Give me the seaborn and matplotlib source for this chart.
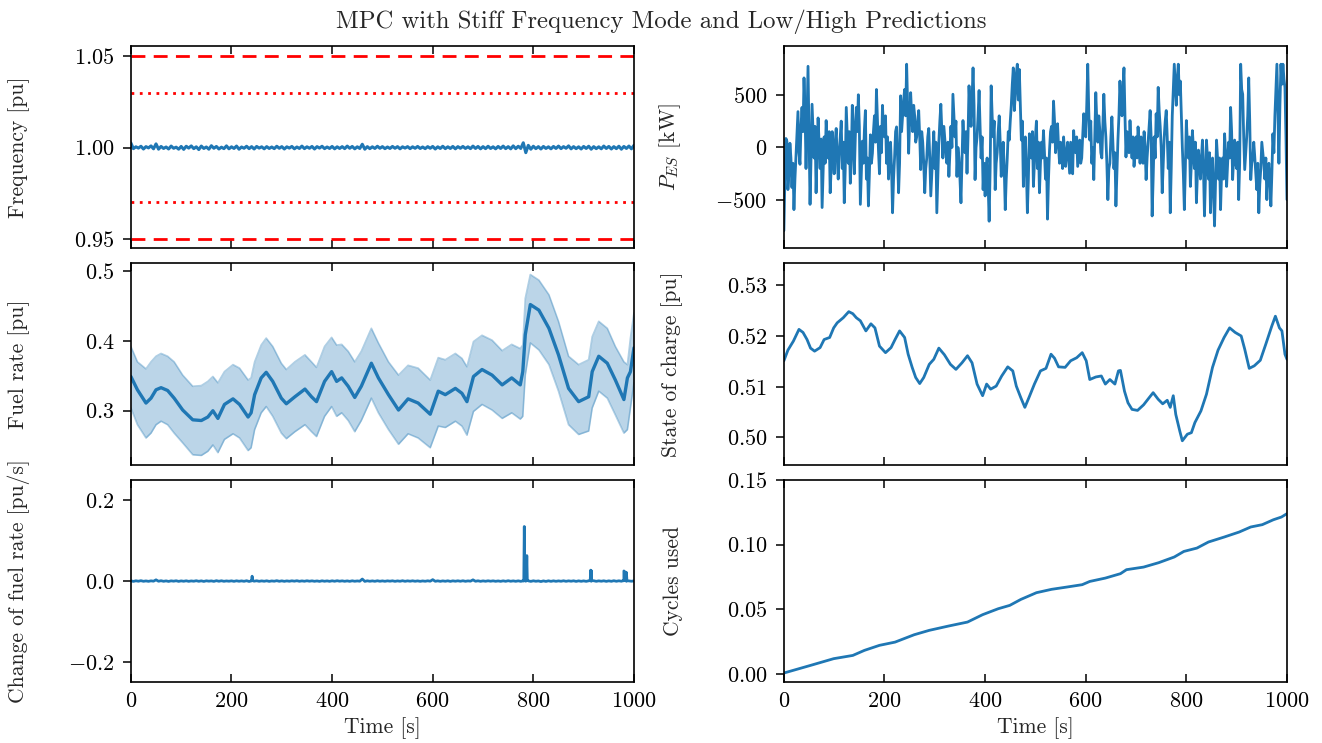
import numpy as np
import pandas as pd
import matplotlib
matplotlib.use("Agg")
import matplotlib.pyplot as plt
from matplotlib.ticker import FuncFormatter
import seaborn as sns

# ---------------------------------------------------------------- data
T_END = 1000

# Grid frequency deviation from nominal, sampled every 5 s, in units of 1e-3 pu
freq_dev = [
    2.5, -0.6, 0.4, -0.3, 0.7, -0.8, 0.5, -0.2, 0.9, -0.7,
    2.0, -0.9, 0.6, -0.5, 0.3, -0.8, 0.8, -0.4, 0.2, -0.9,
    0.6, -1.0, 0.7, -0.3, 0.9, -0.6, 0.4, -1.1, 0.8, -0.5,
    0.3, -0.9, 1.0, -0.4, 0.6, -0.8, 0.2, -0.6, 0.9, -0.7,
    0.4, -0.5, 0.8, -0.9, 0.3, -0.4, 0.7, -0.6, 0.5, -0.8,
    0.6, -0.3, 0.4, -0.7, 0.5, -0.5, 0.3, -0.6, 0.7, -0.4,
    0.5, -0.8, 0.4, -0.3, 0.6, -0.7, 0.3, -0.5, 0.8, -0.6,
    0.4, -0.4, 0.6, -0.8, 0.5, -0.3, 0.7, -0.6, 0.3, -0.5,
    0.6, -0.7, 0.4, -0.5, 0.5, -0.6, 0.8, -0.4, 0.6, -0.7,
    0.4, -0.5, 1.8, -0.9, 0.5, -0.6, 0.4, -0.5, 0.7, -0.4,
    0.5, -0.6, 0.3, -0.5, 0.6, -0.4, 0.5, -0.7, 0.4, -0.3,
    0.5, -0.6, 0.4, -0.4, 0.6, -0.5, 0.3, -0.6, 0.5, -0.4,
    0.6, -0.8, 0.4, -0.5, 0.7, -0.6, 0.4, -0.5, 0.6, -0.7,
    0.5, -0.4, 0.6, -0.5, 0.4, -0.6, 0.8, -0.5, 0.6, -0.7,
    0.5, -0.6, 0.7, -0.5, 0.4, -0.7, 0.6, -0.5, 0.8, -0.6,
    0.5, -0.7, 0.9, -0.6, 0.7, -0.5, 2.6, -2.8, 1.2, -0.9,
    0.7, -0.6, 0.5, -0.8, 0.6, -0.5, 0.4, -0.7, 0.6, -0.5,
    0.8, -0.6, 0.5, -0.4, 0.9, -0.7, 0.5, -0.6, 0.4, -0.8,
    0.6, -0.5, 0.7, -0.9, 0.5, -0.6, 0.4, -0.7, 0.8, -0.5,
    0.6, -0.8, 0.5, -0.6, 0.7, -0.9, 0.6, -0.5, 0.8, -0.7,
    1.2,
]
freq_step = 5
f_limit = [0.95, 1.05]
f_warn = [0.97, 1.03]

# Fuel rate with low / high predictions [pu]
fuel_t = [0, 13, 30, 40, 50, 60, 73, 86, 103, 123, 140, 153, 163, 173, 186,
          203, 216, 233, 239, 246, 259, 269, 282, 299, 309, 326, 346, 359,
          369, 385, 399, 409, 419, 432, 445, 458, 478, 492, 512, 532, 551,
          571, 595, 611, 625, 645, 658, 668, 681, 698, 718, 738, 757, 774,
          779, 784, 794, 811, 831, 850, 870, 890, 910, 917, 930, 947, 963,
          980, 987, 993, 1000]
fuel_mid = [0.349, 0.330, 0.311, 0.318, 0.330, 0.333, 0.329, 0.318, 0.301,
            0.287, 0.286, 0.291, 0.300, 0.289, 0.309, 0.317, 0.309, 0.291,
            0.297, 0.323, 0.347, 0.355, 0.342, 0.318, 0.310, 0.320, 0.331,
            0.320, 0.313, 0.342, 0.356, 0.342, 0.347, 0.335, 0.319, 0.335,
            0.368, 0.347, 0.323, 0.301, 0.317, 0.311, 0.295, 0.328, 0.323,
            0.332, 0.325, 0.313, 0.349, 0.359, 0.351, 0.337, 0.347, 0.337,
            0.356, 0.409, 0.452, 0.444, 0.418, 0.380, 0.332, 0.313, 0.320,
            0.356, 0.378, 0.368, 0.344, 0.316, 0.347, 0.356, 0.390]
fuel_high = [0.392, 0.370, 0.360, 0.370, 0.378, 0.382, 0.378, 0.370, 0.351,
             0.335, 0.336, 0.342, 0.349, 0.340, 0.356, 0.366, 0.361, 0.344,
             0.347, 0.370, 0.394, 0.404, 0.392, 0.368, 0.359, 0.370, 0.380,
             0.370, 0.362, 0.392, 0.405, 0.394, 0.395, 0.385, 0.370, 0.385,
             0.418, 0.397, 0.370, 0.351, 0.365, 0.361, 0.344, 0.376, 0.373,
             0.382, 0.375, 0.363, 0.399, 0.408, 0.401, 0.386, 0.395, 0.389,
             0.394, 0.461, 0.495, 0.487, 0.466, 0.428, 0.378, 0.366, 0.373,
             0.406, 0.428, 0.418, 0.392, 0.370, 0.366, 0.404, 0.440]
fuel_low = [0.304, 0.280, 0.261, 0.268, 0.280, 0.285, 0.280, 0.268, 0.254,
            0.237, 0.236, 0.242, 0.251, 0.240, 0.259, 0.267, 0.261, 0.243,
            0.247, 0.273, 0.297, 0.306, 0.292, 0.268, 0.260, 0.270, 0.280,
            0.270, 0.263, 0.292, 0.306, 0.292, 0.297, 0.286, 0.270, 0.286,
            0.318, 0.297, 0.273, 0.252, 0.267, 0.261, 0.247, 0.278, 0.276,
            0.285, 0.278, 0.265, 0.299, 0.309, 0.301, 0.289, 0.297, 0.288,
            0.292, 0.351, 0.397, 0.387, 0.366, 0.328, 0.280, 0.266, 0.271,
            0.304, 0.328, 0.318, 0.294, 0.268, 0.273, 0.304, 0.340]

# Change of fuel rate [pu/s]: 5 s background samples (units of 1e-3) plus short events
dfuel_dev = [
    0.5, -0.8, 0.6, -0.4, 0.9, -0.6, 0.3, -0.7, 0.5, -0.3,
    3.0, -0.5, 0.8, -0.6, 0.4, -0.9, 0.5, -0.3, 0.7, -0.8,
    0.4, -0.5, 0.6, -0.7, 0.3, -0.4, 0.8, -0.6, 0.5, -0.9,
    0.6, -0.3, 0.4, -0.8, 0.9, -0.5, 0.7, -0.6, 0.3, -0.4,
    0.5, -0.7, 0.6, -0.5, 0.4, -0.6, 0.8, -1.0, 0.5, -0.3,
    0.7, -0.6, 0.4, -0.5, 0.6, -0.8, 0.3, -0.4, 0.9, -0.6,
    0.5, -0.7, 0.4, -0.5, 0.6, -0.3, 0.8, -0.6, 0.4, -0.5,
    0.7, -0.4, 0.5, -0.6, 0.3, -0.8, 0.6, -0.5, 0.4, -0.7,
    0.6, -0.5, 0.8, -0.4, 0.5, -0.6, 0.4, -0.7, 0.6, -0.5,
    0.3, -0.4, 5.0, -0.8, 0.6, -0.5, 0.4, -0.6, 0.7, -0.5,
    0.4, -0.6, 0.5, -0.3, 0.6, -0.7, 0.4, -0.5, 0.8, -0.6,
    0.5, -0.4, 0.6, -0.5, 0.4, -0.7, 0.3, -0.5, 0.6, -0.4,
    3.5, -0.6, 0.5, -0.7, 0.4, -0.5, 0.6, -0.8, 0.5, -0.4,
    0.6, -0.5, 0.7, -0.6, 0.4, -0.3, 3.0, -0.5, 0.6, -0.7,
    0.4, -0.5, 0.6, -0.4, 0.5, -0.6, 0.3, -0.7, 0.5, -0.6,
    0.8, -0.5, 0.4, -0.6, 0.5, -0.7, 0.6, -0.4, 0.5, -0.8,
    0.6, -0.5, 0.3, -1.2, 0.4, -0.9, 0.6, -0.7, 0.5, -0.6,
    0.4, -0.5, 0.7, -0.6, 0.5, -0.4, 0.6, -0.8, 0.5, -0.6,
    0.4, -0.7, 0.6, -0.5, 0.8, -0.6, 0.5, -0.4, 0.6, -0.7,
    0.5, -0.6, 0.8, -0.5, 0.6, -0.4, 0.7, -0.6, 0.5, -0.4,
    0.3,
]
dfuel_step = 5
event_t = [240, 241, 242, 781, 782, 783, 786, 787, 788,
           913, 914, 915, 916, 979, 980, 981, 983, 984, 985, 986]
event_val = [0.001, 0.012, 0.001, 0.000, 0.135, 0.004, 0.005, 0.063, 0.002,
             0.001, 0.027, 0.026, 0.001, 0.001, 0.025, 0.024, 0.002, 0.022, 0.021, 0.001]

# Energy storage power, sampled every 2 s [kW]
p_es = [
    -790, -300, 85, 60, -400, -250, 40, -100, -380, -150,
    -590, -300, -90, 100, 340, -50, -160, 200, 380, 150,
    660, 350, -200, 300, 770, 100, -540, -100, 410, 150,
    -100, 200, -430, -50, 280, 50, -200, 80, -570, -250,
    100, -150, 255, 50, -100, 150, -430, -200, 150, -50,
    -250, 50, 180, -100, -300, -50, 100, 250, -200, 50,
    -525, -200, 380, 100, -150, 150, -340, -100, 400, 200,
    -250, 100, 380, 150, 500, 200, -540, -250, 60, -150,
    160, 350, -300, -100, -555, -250, 120, -150, -55, 150,
    300, 50, 550, 250, -25, -250, 200, -50, 400, 150,
    100, 300, -150, 100, -300, -100, 50, -200, -620, -300,
    -100, 150, 195, -100, -430, -150, 490, 150, 300, 450,
    550, 300, 790, 400, -55, 250, 520, 300, 150, 400,
    300, 50, 100, 250, 350, 100, -210, 150, 50, -150,
    -430, -200, -100, 100, 180, -100, -460, -250, -25, 150,
    -200, 50, -620, -300, 50, 250, 410, 150, -100, 200,
    70, -50, -150, 50, -275, -50, 200, 0, 505, 300,
    100, 250, -275, 0, -100, -300, -525, -150, 255, 50,
    -50, 150, -245, 100, 585, 350, 200, 450, 755, 400,
    -305, 0, 100, 300, 540, 200, -100, 100, -400, -150,
    -460, -200, -100, -350, -700, -200, 585, 300, 100, 250,
    -400, -150, -50, 150, 300, 50, -275, -100, 50, -200,
    -590, -300, -100, 150, 70, 250, 400, 600, 755, 350,
    500, 700, 790, 450, 740, 400, 70, 250, -370, -100,
    100, -200, -620, -300, 130, -50, -100, 150, -370, -150,
    100, 250, -200, 50, -430, -150, 50, -100, 160, -50,
    -300, -100, -680, -300, -25, 150, 200, 50, 440, 250,
    -50, 100, 225, 0, -150, 50, -25, -200, 100, -50,
    -180, -50, 50, -100, -245, 50, -100, -250, 160, 0,
    -50, 100, -180, -50, 70, -150, -100, 100, 320, 150,
    100, 400, 790, 350, 70, 250, -150, 0, -305, 100,
    520, 250, 50, 300, 160, -50, -100, 200, 505, 250,
    100, -150, -495, -200, -150, 100, 290, 50, -200, -50,
    -555, -250, 70, 300, 630, 400, 300, 550, 755, 300,
    -90, 150, 100, -50, 255, 50, -100, 100, -180, -50,
    100, -100, 195, 50, -150, 100, -55, -150, 150, 0,
    -305, -100, 50, 200, 350, 100, -650, -300, 100, -100,
    320, 100, 570, 350, 200, 0, -430, -150, 100, 250,
    350, 100, -200, 50, -620, -200, 300, 550, 790, 600,
    400, 650, 790, 500, 630, 300, 5, -250, -590, -200,
    255, 50, -100, 100, -370, -150, 160, 0, -200, 50,
    -525, -250, -25, -150, -300, -100, 70, -200, -650, -300,
    70, -100, -300, -50, -620, -300, -100, -400, -745, -350,
    70, -100, -300, -100, -590, -250, -100, -300, 130, -50,
    -370, -150, 50, -100, 380, 150, -305, -100, 70, -150,
    -200, 50, -495, -150, 790, 550, 505, 100, -210, -50,
    100, 300, 660, 250, -305, -150, -100, 50, -90, -250,
    -400, -150, -620, -350, -200, 50, -55, -150, -300, -100,
    -495, -250, -150, -300, -555, -250, 130, -50, 300, 550,
    790, 350, -150, 400, 790, 600, 790, 650, 570, 100,
    -495,
]
p_step = 2

# State of charge [pu]
soc_t = [0, 8, 19, 30, 38, 46, 53, 61, 72, 80, 91, 99, 106, 118, 129, 137,
         144, 152, 163, 173, 181, 190, 202, 213, 221, 230, 240, 247, 255,
         262, 270, 278, 289, 298, 308, 319, 331, 342, 354, 365, 374, 384,
         395, 403, 411, 422, 433, 445, 455, 462, 471, 479, 487, 498, 510,
         521, 531, 538, 546, 559, 570, 582, 593, 601, 608, 620, 631, 639,
         648, 658, 665, 669, 677, 684, 692, 703, 715, 726, 734, 744, 753,
         762, 768, 774, 779, 787, 792, 802, 810, 817, 829, 840, 852, 863,
         875, 886, 897, 909, 916, 925, 935, 947, 958, 970, 977, 985, 990,
         996, 1000]
soc = [0.5151, 0.5172, 0.5190, 0.5213, 0.5207, 0.5193, 0.5176, 0.5170,
       0.5177, 0.5193, 0.5197, 0.5216, 0.5226, 0.5236, 0.5248, 0.5244,
       0.5236, 0.5230, 0.5210, 0.5224, 0.5216, 0.5180, 0.5167, 0.5177,
       0.5193, 0.5210, 0.5197, 0.5164, 0.5138, 0.5118, 0.5106, 0.5118,
       0.5144, 0.5154, 0.5176, 0.5163, 0.5144, 0.5134, 0.5147, 0.5161,
       0.5147, 0.5105, 0.5082, 0.5105, 0.5095, 0.5101, 0.5121, 0.5139,
       0.5131, 0.5101, 0.5078, 0.5059, 0.5078, 0.5105, 0.5131, 0.5136,
       0.5164, 0.5156, 0.5139, 0.5138, 0.5151, 0.5157, 0.5167, 0.5151,
       0.5114, 0.5119, 0.5121, 0.5105, 0.5114, 0.5105, 0.5131, 0.5132,
       0.5091, 0.5068, 0.5055, 0.5053, 0.5064, 0.5078, 0.5088, 0.5075,
       0.5066, 0.5073, 0.5059, 0.5082, 0.5045, 0.5012, 0.4993, 0.5006,
       0.5009, 0.5029, 0.5052, 0.5085, 0.5138, 0.5172, 0.5197, 0.5216,
       0.5207, 0.5200, 0.5174, 0.5136, 0.5141, 0.5152, 0.5184, 0.5220,
       0.5239, 0.5216, 0.5210, 0.5164, 0.5154]

# Cumulative battery cycles used
cyc_t = [0, 53, 99, 137, 160, 190, 221, 259, 289, 327, 365, 395, 426, 449,
         471, 502, 532, 563, 593, 608, 639, 669, 681, 715, 745, 776, 795,
         821, 844, 875, 905, 928, 951, 973, 989, 1000]
cycles = [0.0008, 0.0067, 0.0119, 0.0144, 0.0183, 0.0222, 0.0247, 0.0304,
          0.0338, 0.0371, 0.0402, 0.0459, 0.0505, 0.0531, 0.0577, 0.0629,
          0.0655, 0.0673, 0.0691, 0.0716, 0.0742, 0.0776, 0.0807, 0.0827,
          0.0861, 0.0905, 0.0948, 0.0974, 0.1021, 0.1059, 0.1098, 0.1137,
          0.1155, 0.1193, 0.1214, 0.1240]

# ---------------------------------------------------------------- style
sns.set_style("ticks")
plt.rcParams.update({
    "font.family": ["cmr10", "DejaVu Serif"],
    "mathtext.fontset": "cm",
    "axes.formatter.use_mathtext": True,
    "axes.unicode_minus": True,
    "font.size": 15,
    "axes.labelsize": 15.5,
    "xtick.labelsize": 16,
    "ytick.labelsize": 16,
    "axes.linewidth": 1.2,
    "axes.edgecolor": "black",
    "xtick.direction": "in",
    "xtick.top": True,
    "xtick.bottom": True,
    "ytick.direction": "out",
    "ytick.right": False,
    "xtick.major.size": 6,
    "ytick.major.size": 6,
    "xtick.major.width": 1.1,
    "ytick.major.width": 1.1,
    "xtick.major.pad": 7,
    "ytick.major.pad": 6,
    "xtick.color": "black",
    "ytick.color": "black",
})

BLUE = "#1f77b4"
LW = 2.0


def fmt(decimals):
    return FuncFormatter(lambda v, _: f"${v:.{decimals}f}$")


fig, axes = plt.subplots(3, 2, figsize=(13.22, 7.43), dpi=100, sharex=True)
fig.subplots_adjust(left=0.099, right=0.9735, top=0.938, bottom=0.082,
                    wspace=0.298, hspace=0.074)

# frequency
ax = axes[0, 0]
freq_df = pd.DataFrame({"t": np.arange(len(freq_dev)) * freq_step,
                        "f": 1.0 + np.array(freq_dev) * 1e-3})
for lvl in f_limit:
    ax.axhline(lvl, color="red", ls=(0, (5, 3)), lw=2)
for lvl in f_warn:
    ax.axhline(lvl, color="red", ls=(0, (1, 2)), lw=2)
sns.lineplot(data=freq_df, x="t", y="f", ax=ax, color=BLUE, lw=2.2,
             estimator=None, sort=False)
ax.set_ylim(0.9451, 1.0554)
ax.set_yticks([0.95, 1.00, 1.05])
ax.yaxis.set_major_formatter(fmt(2))
ax.set_ylabel("Frequency [pu]")

# fuel rate with prediction band
ax = axes[1, 0]
fuel_df = pd.DataFrame({"t": fuel_t, "mid": fuel_mid,
                        "low": fuel_low, "high": fuel_high})
ax.fill_between(fuel_df["t"], fuel_df["low"], fuel_df["high"],
                color=BLUE, alpha=0.3, lw=0)
sns.lineplot(data=fuel_df, x="t", y="high", ax=ax, color=BLUE, lw=1.2,
             alpha=0.35, estimator=None, sort=False)
sns.lineplot(data=fuel_df, x="t", y="low", ax=ax, color=BLUE, lw=1.2,
             alpha=0.35, estimator=None, sort=False)
sns.lineplot(data=fuel_df, x="t", y="mid", ax=ax, color=BLUE, lw=2.4,
             estimator=None, sort=False)
ax.set_ylim(0.2222, 0.5114)
ax.set_yticks([0.3, 0.4, 0.5])
ax.yaxis.set_major_formatter(fmt(1))
ax.set_ylabel("Fuel rate [pu]")

# change of fuel rate
ax = axes[2, 0]
base_df = pd.DataFrame({"t": np.arange(len(dfuel_dev)) * dfuel_step,
                        "d": np.array(dfuel_dev) * 1e-3})
event_df = pd.DataFrame({"t": event_t, "d": event_val})
dfuel_df = pd.concat([base_df, event_df]).sort_values("t", kind="stable")
sns.lineplot(data=dfuel_df, x="t", y="d", ax=ax, color=BLUE, lw=LW,
             estimator=None, sort=False)
ax.set_ylim(-0.25, 0.25)
ax.set_yticks([-0.2, 0.0, 0.2])
ax.yaxis.set_major_formatter(fmt(1))
ax.set_ylabel("Change of fuel rate [pu/s]")

# storage power
ax = axes[0, 1]
p_df = pd.DataFrame({"t": np.arange(len(p_es)) * p_step, "p": p_es})
sns.lineplot(data=p_df, x="t", y="p", ax=ax, color=BLUE, lw=LW,
             estimator=None, sort=False)
ax.set_ylim(-955, 962)
ax.set_yticks([-500, 0, 500])
ax.yaxis.set_major_formatter(fmt(0))
ax.set_ylabel(r"$P_{ES}$ [kW]")

# state of charge
ax = axes[1, 1]
soc_df = pd.DataFrame({"t": soc_t, "soc": soc})
sns.lineplot(data=soc_df, x="t", y="soc", ax=ax, color=BLUE, lw=LW,
             estimator=None, sort=False)
ax.set_ylim(0.4945, 0.5344)
ax.set_yticks([0.50, 0.51, 0.52, 0.53])
ax.yaxis.set_major_formatter(fmt(2))
ax.set_ylabel("State of charge [pu]")

# cycles
ax = axes[2, 1]
cyc_df = pd.DataFrame({"t": cyc_t, "c": cycles})
sns.lineplot(data=cyc_df, x="t", y="c", ax=ax, color=BLUE, lw=LW,
             estimator=None, sort=False)
ax.set_ylim(-0.0062, 0.15)
ax.set_yticks([0.00, 0.05, 0.10, 0.15])
ax.yaxis.set_major_formatter(fmt(2))
ax.set_ylabel("Cycles used")

for ax in axes.flat:
    ax.set_xlim(0, T_END)
    ax.set_xticks([0, 200, 400, 600, 800, 1000])
    ax.xaxis.set_major_formatter(fmt(0))
    ax.set_xlabel("")
    ax.yaxis.set_label_coords(-0.200, 0.5)
    for sp in ax.spines.values():
        sp.set_visible(True)
for ax in axes[2]:
    ax.set_xlabel("Time [s]", labelpad=4)
    ax.tick_params(axis="x", labelbottom=True)

fig.suptitle("MPC with Stiff Frequency Mode and Low/High Predictions",
             fontsize=17.8, y=0.987)

fig.savefig("out.png", dpi=100)
